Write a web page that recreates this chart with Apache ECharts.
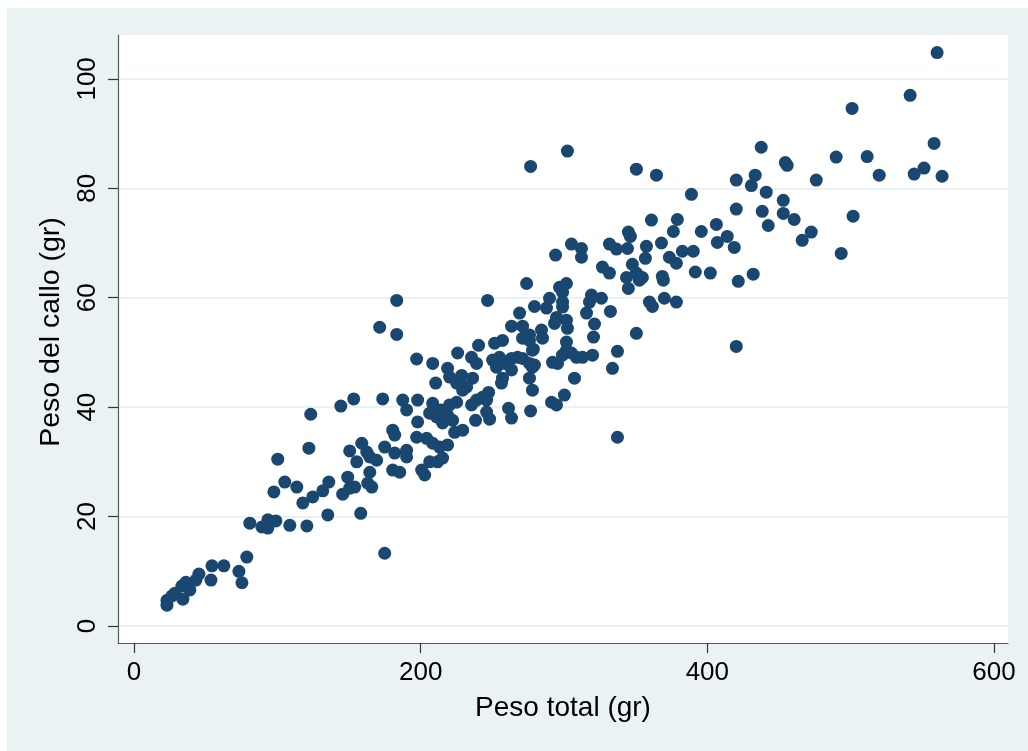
<!DOCTYPE html>
<html>
<head>
<meta charset="utf-8">
<title>Peso del callo vs Peso total</title>
<script src="https://cdn.jsdelivr.net/npm/echarts@6/dist/echarts.min.js"></script>
<style>
  html, body { margin: 0; padding: 0; background: #ffffff; }
  #chart { width: 1028px; height: 751px; }
</style>
</head>
<body>
<div id="chart"></div>
<script>
// Peso total (gr) de cada ejemplar
const pesoTotal = [
  23, 23, 26.5, 28.6, 33.4, 34.1, 36.2, 39, 43.2, 45.3,
  53.7, 54.4, 62.7, 73.2, 75.3, 78.7, 80.8, 89.2, 93.4, 93.4,
  99, 108.7, 120.6, 97.6, 100.3, 105.2, 113.6, 117.8, 124.7, 122,
  123.3, 131.7, 135.9, 135.2, 158.2, 174.9, 145.6, 149.1, 150.5, 154,
  163.1, 165.9, 164.5, 150.5, 158.9, 155.4, 164.5, 169.3, 174.9, 181.9,
  190.2, 190.2, 180.5, 185.4, 181.9, 180.5, 144.3, 153.3, 173.5, 171.4,
  183.3, 183.3, 162.4, 206.3, 211.8, 215.3, 200.7, 202.8, 197.2, 204.2,
  208.4, 213.2, 218.8, 223.7, 229.3, 197.9, 197.2, 208.4, 225.8, 218.8,
  220.2, 228.6, 227.2, 236.2, 225.1, 210.5, 235.5, 239, 240.4, 246.7,
  251.6, 257.1, 250.2, 255, 252.9, 258.5, 263.4, 267.6, 271.1, 275.9,
  279.4, 257.1, 256.4, 263.4, 271.1, 275.9, 285, 278, 275.9, 278,
  292, 298.9, 301.7, 229.3, 232.1, 239, 235.5, 243.2, 247.4, 246,
  187.5, 190.2, 197.9, 208.4, 206.3, 211.1, 214.6, 220.2, 225.1, 218.8,
  222.3, 215.3, 238.3, 248.1, 261.3, 263.4, 276.7, 291.3, 294.8, 300.3,
  344.9, 346.3, 361, 305.2, 312.2, 312.2, 294.1, 331.7, 336.6, 344.3,
  357.5, 368, 356.8, 326.8, 331.7, 347.7, 343.6, 350.5, 352.6, 344.9,
  354.7, 368.6, 273.9, 301.7, 296.9, 299, 289.9, 299, 299, 319.2,
  317.8, 315.7, 326.1, 332.4, 359.6, 361.7, 370, 279.4, 287.8, 269,
  263.4, 271.1, 294.8, 301.7, 302.4, 293.4, 321.3, 320.6, 350.5, 284.3,
  276, 301.7, 278.6, 337.3, 333.8, 319.9, 312.9, 305.2, 308.7, 295.5,
  278, 307.3, 246, 437.6, 350.5, 364.5, 454.4, 455.7, 420.2, 433.4,
  430.7, 441.1, 388.9, 453, 420.2, 438.3, 453, 460.6, 442.5, 379.1,
  376.3, 395.8, 406.3, 413.9, 407, 418.8, 466.2, 382.6, 390.2, 373.5,
  378.4, 369.3, 391.6, 402.1, 421.6, 432, 378.4, 560.3, 541.5, 501,
  558.2, 489.9, 511.5, 519.9, 544.3, 551.2, 563.8, 476, 472.5, 501.7,
  493.4, 276.7, 302.4, 420.2, 337.3
];

// Peso del callo (gr) del mismo ejemplar, en el mismo orden
const pesoCallo = [
  3.8, 4.7, 5.5, 6.0, 7.3, 4.9, 8.0, 6.6, 8.4, 9.5,
  8.4, 11.0, 11.0, 10.0, 7.9, 12.6, 18.8, 18.1, 19.4, 17.9,
  19.2, 18.4, 18.3, 24.5, 30.5, 26.3, 25.4, 22.5, 23.6, 32.5,
  38.7, 24.7, 26.3, 20.3, 20.6, 13.3, 24.1, 27.2, 25.2, 25.4,
  26.1, 25.4, 28.1, 32.0, 33.4, 30.0, 30.9, 30.3, 32.7, 31.6,
  32.1, 30.9, 28.5, 28.1, 34.9, 35.8, 40.2, 41.5, 41.5, 54.6,
  53.3, 59.5, 31.8, 30.0, 30.0, 30.7, 28.5, 27.6, 34.5, 34.3,
  33.4, 32.7, 33.1, 35.4, 35.8, 37.3, 48.8, 48.0, 49.9, 47.1,
  45.5, 45.8, 44.6, 45.3, 44.4, 44.4, 49.1, 48.0, 51.3, 59.5,
  51.7, 52.2, 48.6, 49.1, 47.3, 48.0, 48.9, 49.1, 48.9, 48.0,
  47.7, 45.3, 44.4, 46.8, 52.6, 52.2, 52.6, 50.4, 45.3, 43.1,
  48.2, 49.5, 51.9, 43.1, 43.7, 41.3, 40.4, 41.8, 42.7, 41.3,
  41.3, 39.5, 41.3, 40.7, 38.9, 38.2, 39.5, 40.4, 40.9, 38.5,
  37.6, 37.1, 37.6, 37.8, 39.8, 38.0, 39.3, 40.9, 40.4, 42.2,
  72.0, 71.2, 74.2, 69.8, 69.0, 67.4, 67.8, 69.8, 68.9, 69.0,
  69.4, 70.0, 67.2, 65.6, 64.5, 66.1, 63.7, 64.5, 63.2, 61.7,
  63.7, 63.9, 62.6, 62.6, 61.9, 61.0, 59.9, 59.2, 58.3, 60.5,
  59.2, 57.2, 59.9, 57.5, 59.2, 58.4, 59.9, 58.4, 58.1, 57.2,
  54.8, 54.8, 56.4, 55.9, 54.4, 55.3, 55.2, 52.8, 53.5, 54.1,
  53.2, 50.4, 50.6, 50.2, 47.1, 49.5, 49.1, 49.9, 49.1, 48.0,
  47.3, 45.3, 39.1, 87.5, 83.5, 82.4, 84.7, 84.2, 81.5, 82.4,
  80.5, 79.3, 78.9, 77.8, 76.2, 75.8, 75.4, 74.3, 73.2, 74.3,
  72.1, 72.1, 73.4, 71.2, 70.1, 69.2, 70.5, 68.5, 68.5, 67.4,
  66.3, 63.2, 64.7, 64.5, 63.0, 64.3, 59.2, 104.8, 97.0, 94.6,
  88.2, 85.7, 85.8, 82.4, 82.6, 83.7, 82.2, 81.5, 72.0, 74.9,
  68.1, 84.0, 86.8, 51.1, 34.5
];

// Etiquetas de los ejes
const xTicks = [0, 200, 400, 600];
const yTicks = [0, 20, 40, 60, 80, 100];

const puntos = pesoTotal.map((x, i) => [x, pesoCallo[i]]);

const chart = echarts.init(document.getElementById('chart'), null, { renderer: 'canvas' });

const fontFamily = '"Liberation Sans", Arial, sans-serif';
const fondo = '#EAF2F3';
const marcador = '#1A476F';

chart.setOption({
  backgroundColor: fondo,
  animation: false,
  textStyle: { fontFamily: fontFamily },
  graphic: [
    { type: 'rect', left: 0, top: 0, shape: { width: 1028, height: 8 }, style: { fill: '#ffffff' }, silent: true },
    { type: 'rect', left: 0, top: 0, shape: { width: 7, height: 751 }, style: { fill: '#ffffff' }, silent: true }
  ],
  grid: {
    left: 118, top: 35, right: 20, bottom: 108,
    show: true, backgroundColor: '#ffffff', borderWidth: 0,
    containLabel: false, outerBoundsMode: 'none'
  },
  xAxis: {
    type: 'value',
    min: -11.16, max: 609.77,
    name: 'Peso total (gr)',
    nameLocation: 'middle',
    nameGap: 51,
    nameTextStyle: { fontSize: 28, color: '#000', fontFamily: fontFamily },
    axisLine: { show: true, onZero: false, lineStyle: { color: '#5a5a5a', width: 1.2 } },
    axisTick: { show: true, length: 10, customValues: xTicks, lineStyle: { color: '#333', width: 1.2 } },
    axisLabel: { customValues: xTicks, margin: 17, fontSize: 26, color: '#000', fontFamily: fontFamily },
    splitLine: { show: false }
  },
  yAxis: {
    type: 'value',
    min: -3.107, max: 108.02,
    name: 'Peso del callo (gr)',
    nameLocation: 'middle',
    nameGap: 52,
    nameTextStyle: { fontSize: 28.5, color: '#000', fontFamily: fontFamily, padding: [0, 0, 0, 14] },
    axisLine: { show: true, onZero: false, lineStyle: { color: '#5a5a5a', width: 1.2 } },
    axisTick: { show: true, length: 10, customValues: yTicks, lineStyle: { color: '#333', width: 1.2 } },
    axisLabel: { customValues: yTicks, rotate: 90, margin: 17, fontSize: 26, color: '#000', fontFamily: fontFamily },
    splitLine: { show: true, lineStyle: { color: fondo, width: 2 } }
  },
  series: [{
    type: 'scatter',
    data: puntos,
    symbol: 'circle',
    symbolSize: 13,
    itemStyle: { color: marcador, opacity: 1 }
  }]
});
</script>
</body>
</html>
